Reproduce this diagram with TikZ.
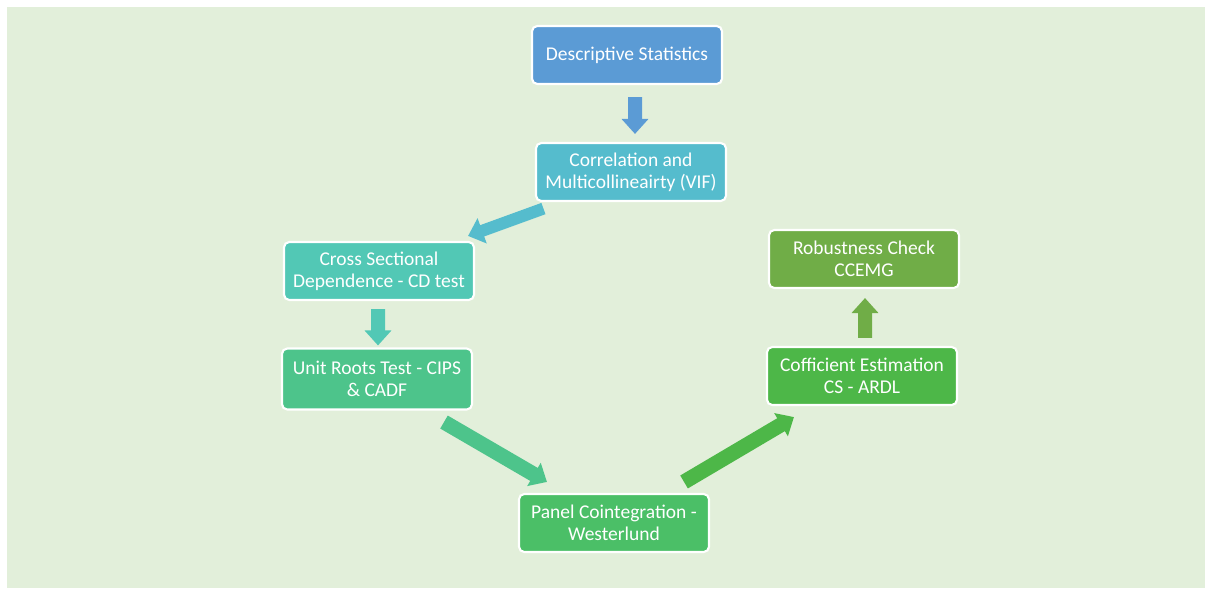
\documentclass[tikz,border=0pt]{standalone}
\usepackage{fontspec}
\setmainfont{Carlito}
\usepackage{tikz}
\usetikzlibrary{positioning,arrows.meta}
\definecolor{bggreen}{HTML}{E2EFDA}
\definecolor{cdesc}{HTML}{5B9BD5}
\definecolor{ccorr}{HTML}{55BCCD}
\definecolor{ccross}{HTML}{52C8B5}
\definecolor{cunit}{HTML}{4DC48B}
\definecolor{cpanel}{HTML}{4BBF67}
\definecolor{ccoef}{HTML}{4DB748}
\definecolor{crobust}{HTML}{70AD47}

\begin{document}
\begin{tikzpicture}[on grid,
    box/.style={draw=white,line width=1.2pt,rounded corners=3pt,text=white,align=center,
      minimum width=3.8cm,minimum height=1.16cm,inner sep=2pt,font=\fontsize{11.1}{12.5}\selectfont},
    blockarrow/.style={line width=0.28cm,-{Triangle[length=0.3cm,width=0.52cm]},draw=#1}]
    \useasboundingbox (0,0) rectangle (24.16,-11.8);
    \fill[bggreen] (0.14,-0.14) rectangle (24.1,-11.76);
    \node[box,fill=cdesc] (desc) at (12.54,-1.1) {Descriptive Statistics};
    \node[box,fill=ccorr] (corr) [below right=2.34cm and 0.08cm of desc] {Correlation and\\Multicollineairty (VIF)};
    \node[box,fill=ccross] (cross) [below left=1.98cm and 5.04cm of corr] {Cross Sectional\\Dependence - CD test};
    \node[box,fill=cunit,minimum height=1.22cm] (unit) [below left=2.16cm and 0.04cm of cross] {Unit Roots Test - CIPS\\\& CADF};
    \node[box,fill=cpanel] (panel) [below right=2.88cm and 4.74cm of unit] {Panel Cointegration -\\Westerlund};
    \node[box,fill=ccoef] (coef) [above right=2.94cm and 4.96cm of panel] {Cofficient Estimation\\CS - ARDL};
    \node[box,fill=crobust] (robust) [above right=2.34cm and 0.04cm of coef] {Robustness Check\\CCEMG};
    % block arrows between the steps
    \draw[blockarrow=cdesc] ([shift={(0.16,-0.24)}]desc.south) -- ([shift={(0.08,0.16)}]corr.north);
    \draw[blockarrow=ccorr,line width=0.24cm] ([shift={(0.17,-0.13)}]corr.south west) -- ([shift={(-0.14,0.10)}]cross.north east);
    \draw[blockarrow=ccross] ([shift={(-0.02,-0.16)}]cross.south) -- ([shift={(0.02,0.04)}]unit.north);
    \draw[blockarrow=cunit,line width=0.3cm] ([shift={(1.34,-0.23)}]unit.south) -- ([shift={(0.58,0.22)}]panel.north west);
    \draw[blockarrow=ccoef,line width=0.3cm] ([shift={(-0.52,0.22)}]panel.north east) -- ([shift={(0.56,-0.22)}]coef.south west);
    \draw[blockarrow=crobust] ([shift={(0.06,0.16)}]coef.north) -- ([shift={(0.02,-0.18)}]robust.south);
\end{tikzpicture}
\end{document}
